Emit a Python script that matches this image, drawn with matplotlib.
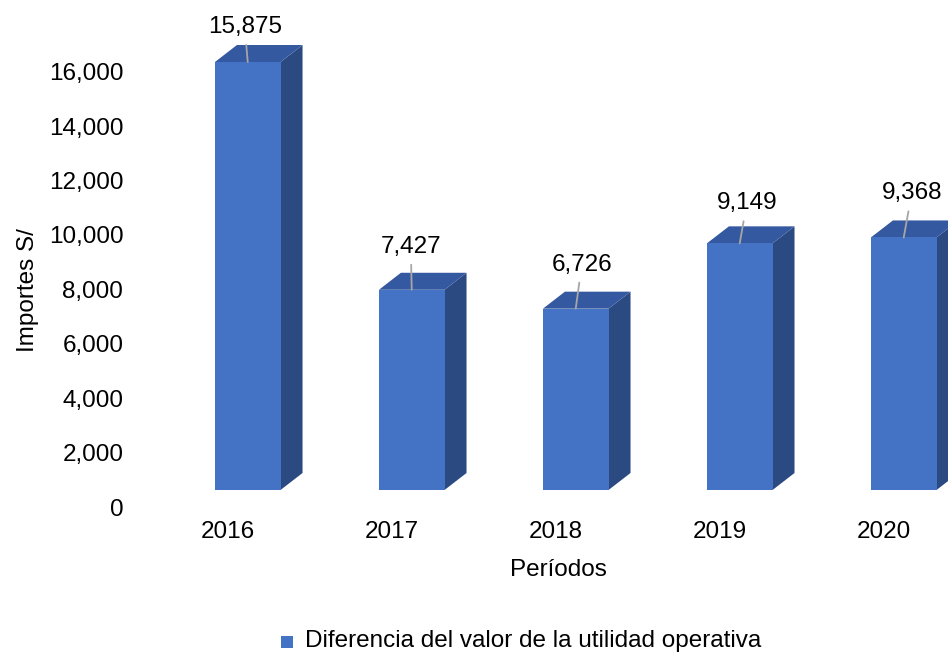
import matplotlib
matplotlib.use("Agg")
import matplotlib.pyplot as plt
from matplotlib.patches import Polygon, Rectangle

# datos
periodos = ["2016", "2017", "2018", "2019", "2020"]
valores = [15875, 7427, 6726, 9149, 9368]
etiquetas = ["15,875", "7,427", "6,726", "9,149", "9,368"]
yticks = [0, 2000, 4000, 6000, 8000, 10000, 12000, 14000, 16000]

plt.rcParams['font.family'] = ['Liberation Sans', 'DejaVu Sans']
FS = 17.5

c_front = '#4472C4'
c_top = '#3459A0'
c_side = '#2C4A82'

fig = plt.figure(figsize=(9.48, 6.55), dpi=100)
ax = fig.add_axes([140 / 948, (655 - 507) / 655, 808 / 948, 506 / 655])
ax.set_xlim(-0.537, 4.39)
ax.set_ylim(0, 18600)

# geometria 3d (profundidad en unidades de datos)
base = 625
ancho = 0.40
izq = -0.08
dx = 22 / 164
dy = 625

# desplazamiento de las etiquetas en pixeles
off = [(-3, 35), (-1, 43), (6, 44), (7, 40), (8, 44)]

for i, v in enumerate(valores):
    x0 = i + izq
    x1 = x0 + ancho
    top = base + v * 0.991
    ax.add_patch(Polygon([(x1, base), (x1 + dx, base + dy), (x1 + dx, top + dy), (x1, top)],
                         closed=True, facecolor=c_side, edgecolor='none', clip_on=False))
    ax.add_patch(Polygon([(x0, top), (x1, top), (x1 + dx, top + dy), (x0 + dx, top + dy)],
                         closed=True, facecolor=c_top, edgecolor='none', clip_on=False))
    ax.add_patch(Rectangle((x0, base), ancho, top - base, facecolor=c_front,
                           edgecolor='none', clip_on=False))
    ax.annotate(etiquetas[i], xy=(x0 + ancho / 2, top), xytext=off[i],
                textcoords='offset pixels', ha='center', va='center', fontsize=FS,
                arrowprops=dict(arrowstyle='-', color='#A6A6A6', lw=1.3,
                                shrinkA=3, shrinkB=0))

ax.set_xticks(range(len(periodos)))
ax.set_xticklabels(periodos, fontsize=FS)
ax.set_yticks(yticks)
ax.set_yticklabels([f"{t:,}" for t in yticks], fontsize=FS)
ax.tick_params(axis='x', length=0, pad=10)
ax.tick_params(axis='y', length=0, pad=12)
for s in ax.spines.values():
    s.set_visible(False)

fig.text(558 / 948, 1 - 570 / 655, "Períodos", ha='center', va='center', fontsize=FS)
fig.text(28 / 948, 1 - 290 / 655, "Importes S/", ha='center', va='center',
         rotation=90, fontsize=FS)

# leyenda
fig.patches.append(Rectangle((281 / 948, 1 - 648 / 655), 12 / 948, 12 / 655,
                             transform=fig.transFigure, facecolor=c_front, edgecolor='none'))
fig.text(305 / 948, 1 - 641 / 655, "Diferencia del valor de la utilidad operativa",
         ha='left', va='center', fontsize=FS)

fig.savefig("out.png", dpi=100)
